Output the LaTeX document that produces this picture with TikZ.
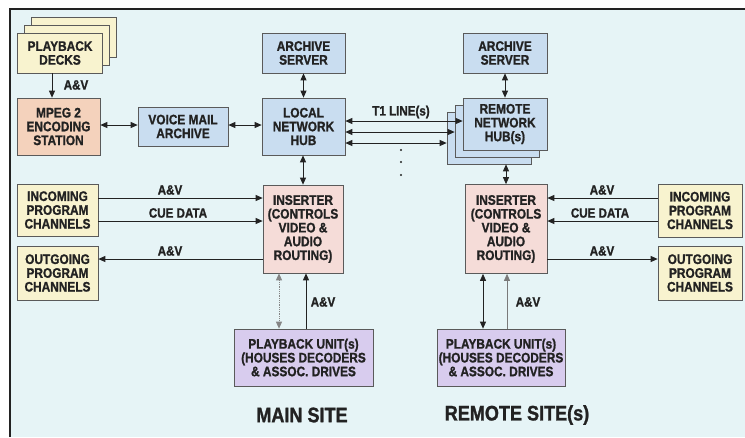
\documentclass[tikz,border=0pt]{standalone}
\usepackage{fontspec}
\setmainfont[FakeStretch=0.86, BoldFeatures={FakeBold=1.2}]{Liberation Sans}
\usetikzlibrary{arrows.meta,calc}
\definecolor{bgc}{HTML}{E6F4F6}
\definecolor{ylw}{HTML}{F8F3CF}
\definecolor{sal}{HTML}{F4D2BC}
\definecolor{blu}{HTML}{C9DDF0}
\definecolor{pnk}{HTML}{F5DCD8}
\definecolor{lav}{HTML}{D8CCEE}
\definecolor{edge}{HTML}{5A5A5A}
\definecolor{ink}{HTML}{222222}
\tikzset{
  box/.style={draw=edge, line width=0.7pt, inner sep=1pt, align=center,
    font=\fontsize{13.8}{13.8}\selectfont\bfseries, text=ink},
  ybox/.style={box, fill=ylw},
  sbox/.style={box, fill=sal},
  bbox/.style={box, fill=blu},
  pbox/.style={box, fill=pnk},
  lbox/.style={box, fill=lav},
  arr/.style={draw=ink, line width=0.8pt, -{Triangle[length=7pt,width=6pt]}},
  darr/.style={draw=ink, line width=0.8pt, {Triangle[length=7pt,width=6pt]}-{Triangle[length=7pt,width=6pt]}},
  lbl/.style={font=\fontsize{13.5}{14}\selectfont\bfseries, text=ink, inner sep=0pt},
  big/.style={font=\fontsize{21}{23}\selectfont\bfseries, text=ink, inner sep=0pt},
}
\begin{document}
\begin{tikzpicture}[x=1pt,y=-1pt]
\useasboundingbox (0,0) rectangle (745,437);
\fill[white] (0,0) rectangle (745,437);
\fill[bgc] (10,9) rectangle (745,437);
\draw[line width=1.6pt, ink] (10,437) -- (10,9) -- (745,9);

% playback decks (stack)
\node[ybox, minimum width=85, minimum height=40] (deckc) at (74,37) {};
\node[ybox, minimum width=85, minimum height=40] (deckb) at (67,45) {};
\node[ybox, minimum width=85, minimum height=40] (decks) at (60,53) {PLAYBACK\\DECKS};

\node[sbox, minimum width=83, minimum height=57] (mpeg) at (58.5,126.5) {MPEG 2\\ENCODING\\STATION};
\node[bbox, minimum width=90, minimum height=39] (vma) at (183,126.5) {VOICE MAIL\\ARCHIVE};
\node[bbox, minimum width=83, minimum height=40] (arch1) at (303.5,53) {ARCHIVE\\SERVER};
\node[bbox, minimum width=83, minimum height=57] (hub1) at (303.5,126.5) {LOCAL\\NETWORK\\HUB};
\node[bbox, minimum width=84, minimum height=40] (arch2) at (505,53) {ARCHIVE\\SERVER};

% remote hubs (stack)
\node[bbox, minimum width=84, minimum height=52] (hubc) at (489,138) {};
\node[bbox, minimum width=84, minimum height=52] (hubb) at (497,131) {};
\node[bbox, minimum width=84, minimum height=52] (hub2) at (505,124) {REMOTE\\NETWORK\\HUB(s)};

\node[pbox, minimum width=80, minimum height=88] (ins1) at (303,229) {INSERTER\\(CONTROLS\\VIDEO \&\\AUDIO\\ROUTING)};
\node[pbox, minimum width=82, minimum height=89] (ins2) at (506,229) {INSERTER\\(CONTROLS\\VIDEO \&\\AUDIO\\ROUTING)};

\node[ybox, minimum width=81, minimum height=52] (in1) at (57.5,210) {INCOMING\\PROGRAM\\CHANNELS};
\node[ybox, minimum width=81, minimum height=54] (out1) at (57.5,273) {OUTGOING\\PROGRAM\\CHANNELS};
\node[ybox, minimum width=84, minimum height=53] (in2) at (700,210.5) {INCOMING\\PROGRAM\\CHANNELS};
\node[ybox, minimum width=84, minimum height=54] (out2) at (700,273) {OUTGOING\\PROGRAM\\CHANNELS};

\node[lbox, minimum width=139, minimum height=57] (pu1) at (303.5,357.5) {PLAYBACK UNIT(s)\\(HOUSES DECODERS\\\& ASSOC. DRIVES};
\node[lbox, minimum width=128, minimum height=57] (pu2) at (501,357.5) {PLAYBACK UNIT(s)\\(HOUSES DECODERS\\\& ASSOC. DRIVES};

% connectors
\draw[arr] (decks.south -| 52,0) -- (mpeg.north -| 52,0);
\node[lbl] (lav0) at (76,85) {A\&V};
\draw[darr] (mpeg.east |- 0,125) -- (vma.west |- 0,125);
\draw[darr] (vma.east |- 0,125) -- (hub1.west |- 0,125);
\draw[darr] (arch1.south) -- (hub1.north);
\draw[darr] (arch2.south) -- (hub2.north);

\draw[darr] (hub1.east |- 0,121) -- (hub2.west |- 0,121);
\draw[darr] (hub1.east |- 0,132) -- (hubb.west |- 0,132);
\draw[darr] (hub1.east |- 0,143) -- (hubc.west |- 0,143);
\node[lbl] (t1) at (401,112) {T1 LINE(s)};
\node[circle, fill=ink, inner sep=0.8pt] (d1) at (401,150) {};
\node[circle, fill=ink, inner sep=0.8pt] (d2) at (401,162) {};
\node[circle, fill=ink, inner sep=0.8pt] (d3) at (401,175) {};

\draw[darr] (hub1.south -| 303,0) -- (ins1.north -| 303,0);
\draw[darr] (hubc.south -| 506,0) -- (ins2.north -| 506,0);

\draw[arr] (in1.east |- 0,198) -- (ins1.west |- 0,198);
\draw[arr] (in1.east |- 0,221) -- (ins1.west |- 0,221);
\draw[arr] (ins1.west |- 0,259) -- (out1.east |- 0,259);
\node[lbl] (la1) at (170,190) {A\&V};
\node[lbl] (lc1) at (178,213) {CUE DATA};
\node[lbl] (lb1) at (170,251) {A\&V};

\draw[arr] (in2.west |- 0,198) -- (ins2.east |- 0,198);
\draw[arr] (in2.west |- 0,221) -- (ins2.east |- 0,221);
\draw[arr] (ins2.east |- 0,259) -- (out2.west |- 0,259);
\node[lbl] (la2) at (602,190) {A\&V};
\node[lbl] (lc2) at (600,213) {CUE DATA};
\node[lbl] (lb2) at (602,251) {A\&V};

\draw[darr, draw=ink!55, densely dotted] (ins1.south -| 279,0) -- (pu1.north -| 279,0);
\draw[arr] (pu1.north -| 306,0) -- (ins1.south -| 306,0);
\node[lbl] (lp1) at (323,302) {A\&V};
\draw[darr] (ins2.south -| 483,0) -- (pu2.north -| 483,0);
\draw[arr, draw=ink!60] (pu2.north -| 507,0) -- (ins2.south -| 507,0);
\node[lbl] (lp2) at (528,302) {A\&V};

\node[big] (main) at (302,415) {MAIN SITE};
\node[big] (remote) at (517,415) {REMOTE SITE(s)};
\end{tikzpicture}
\end{document}
